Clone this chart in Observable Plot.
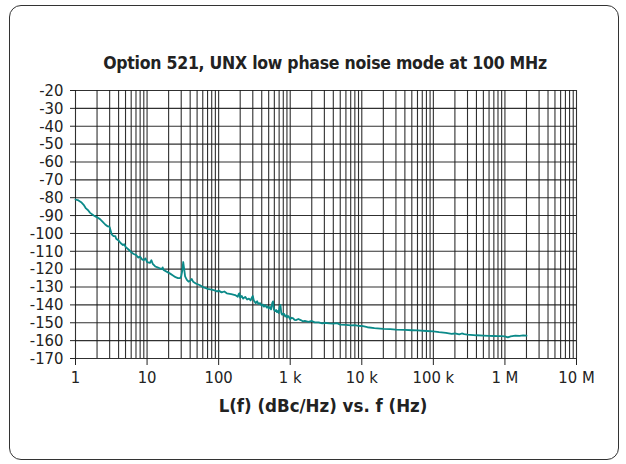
<!DOCTYPE html>
<html>
<head>
<meta charset="utf-8">
<script src="https://cdn.jsdelivr.net/npm/d3@7"></script>
<script src="https://cdn.jsdelivr.net/npm/@observablehq/plot@0.6"></script>
<style>
  html, body { margin: 0; padding: 0; background: #fff; }
  #wrap { position: relative; width: 626px; height: 464px; overflow: hidden;
    font-family: "DejaVu Sans Condensed", "DejaVu Sans", sans-serif; font-stretch: condensed; }
  #frame { position: absolute; left: 9px; top: 5px; width: 610px; height: 455px;
    border: 1.6px solid #333; border-radius: 12px; box-sizing: border-box; }
  #title { position: absolute; left: 0; width: 650px; top: 53px; text-align: center;
    font-weight: bold; font-size: 17.5px; color: #222; letter-spacing: -0.25px; }
  #xlabel { position: absolute; left: 0; width: 646px; top: 395px; text-align: center;
    font-weight: bold; font-size: 18.5px; color: #222; }
  #chart { position: absolute; left: 0; top: 0; }
  #chart svg text { font-stretch: condensed; }
</style>
</head>
<body>
<div id="wrap">
  <div id="frame"></div>
  <div id="chart"></div>
  <div id="title">Option 521, UNX low phase noise mode at 100 MHz</div>
  <div id="xlabel">L(f) (dBc/Hz) vs. f (Hz)</div>
</div>
<script>
// Offset frequency (Hz)
const freqs = [
  1, 1.1, 1.2, 1.3, 1.4, 1.5, 1.6, 1.8, 2.0, 2.2, 2.4, 2.6, 2.8, 2.9, 3.0, 3.1, 3.2, 3.4, 3.6, 3.7,
  4.0, 4.3, 4.6, 4.8, 5.0, 5.5, 6.0, 6.5, 7.0, 7.5, 8.0, 8.5, 9, 9.5, 10, 11, 11.5, 12, 13, 14,
  15, 16, 16.5, 17, 19, 21, 23, 25, 27, 29, 30, 31, 32, 33, 34, 36, 38, 40, 42, 44,
  48, 55, 60, 65, 70, 80, 90, 95, 100, 110, 120, 130, 150, 170, 185, 190, 195, 200, 210, 220,
  235, 250, 265, 280, 290, 300, 310, 330, 345, 360, 380, 400, 415, 430, 450, 470, 485, 500, 520, 540,
  560, 575, 590, 605, 620, 635, 650, 670, 690, 710, 730, 750, 765, 780, 800, 820, 850, 880, 900, 930,
  950, 1000, 1050, 1100, 1150, 1200, 1300, 1400, 1500, 1600, 1800, 2000, 2200, 2500, 2800, 3000, 3500, 4000, 4500, 5000,
  6000, 7000, 8000, 9000, 10000, 12000, 15000, 20000, 25000, 30000, 40000, 50000, 60000, 80000, 100000, 120000, 150000, 180000, 200000, 230000,
  250000, 270000, 300000, 400000, 500000, 600000, 700000, 800000, 900000, 1000000, 1100000, 1200000, 1400000, 1600000, 1800000, 2000000
];
// Phase noise L(f) (dBc/Hz)
const levels = [
  -81, -81.5, -82.5, -84, -86, -87, -88.5, -90, -91, -92, -93.5, -95, -96, -96, -96.5, -98.5, -100.5, -101.5, -101.5, -103,
  -104, -105.5, -106.5, -106, -107.5, -109, -110.5, -111.5, -112, -113.5, -113, -114.5, -115, -114, -116, -116.5, -115, -117, -118.5, -119,
  -119.5, -120, -119, -120.5, -121.5, -122.5, -123.5, -124.5, -125, -125, -124, -121, -116, -120, -124, -126, -127, -126.5, -125.5, -127,
  -128, -129, -130, -130.5, -131, -131.5, -132, -132.5, -132, -133, -132.5, -133.5, -134, -134.5, -135.5, -134, -133.5, -136, -135, -136.5,
  -135.5, -137, -136.5, -137.5, -136, -135, -137.5, -139, -138, -139.5, -139, -140.5, -139.8, -141, -140.2, -141.5, -140.8, -142, -141.2, -142.5,
  -139, -138, -142.5, -143.2, -143.5, -142.8, -144, -143.4, -144.5, -141, -140, -144.5, -145.4, -145.5, -144.8, -145, -146.5, -145.8, -147, -146.2,
  -146.5, -148, -147.2, -147.5, -148.4, -148.5, -147.9, -148.5, -149.2, -149, -149.5, -149, -149.8, -149.8, -150.3, -150, -150.3, -150.5, -150.2, -151,
  -151.2, -151.5, -151.3, -151.7, -151.8, -152.5, -153, -153.4, -153.6, -153.8, -154, -154.2, -154.3, -154.6, -154.8, -155.2, -155.6, -156.2, -156, -156.5,
  -156, -156.4, -156.6, -157, -157.2, -157.3, -157.4, -157.5, -157.5, -157.6, -158.2, -157.6, -157.2, -157.3, -157.1, -157.2
];
// Axis ticks
const decadeTicks = [1, 10, 100, 1e3, 1e4, 1e5, 1e6, 1e7];
const decadeLabels = ["1", "10", "100", "1 k", "10 k", "100 k", "1 M", "10 M"];
const levelTicks = [-170, -160, -150, -140, -130, -120, -110, -100, -90, -80, -70, -60, -50, -40, -30, -20];

const data = freqs.map((f, i) => ({f, db: levels[i]}));
const gridFreqs = [];
for (let d = 0; d < 7; d++) for (let m = 1; m <= 9; m++) gridFreqs.push(m * Math.pow(10, d));
gridFreqs.push(1e7);

const chart = Plot.plot({
  width: 626,
  height: 464,
  marginLeft: 75,
  marginRight: 50,
  marginTop: 90,
  marginBottom: 106,
  x: {type: "log", domain: [1, 1e7]},
  y: {domain: [-170, -20]},
  style: {
    fontFamily: '"DejaVu Sans Condensed", "DejaVu Sans", sans-serif',
    fontSize: "16.5px",
    color: "#222",
    background: "transparent"
  },
  marks: [
    Plot.ruleX(gridFreqs, {stroke: "#1a1a1a", strokeWidth: 1.1, strokeOpacity: 0.9}),
    Plot.ruleY(levelTicks, {stroke: "#1a1a1a", strokeWidth: 1.1, strokeOpacity: 0.9}),
    Plot.axisX({ticks: decadeTicks, tickSize: 7, tickPadding: 6,
      tickFormat: d => decadeLabels[decadeTicks.indexOf(d)], label: null}),
    Plot.axisY({ticks: levelTicks, tickSize: 5, tickPadding: 7,
      tickFormat: d => String(d), label: null}),
    Plot.line(data, {x: "f", y: "db", stroke: "#0b8a89", strokeWidth: 1.8})
  ]
});
document.getElementById("chart").appendChild(chart);
</script>
</body>
</html>
